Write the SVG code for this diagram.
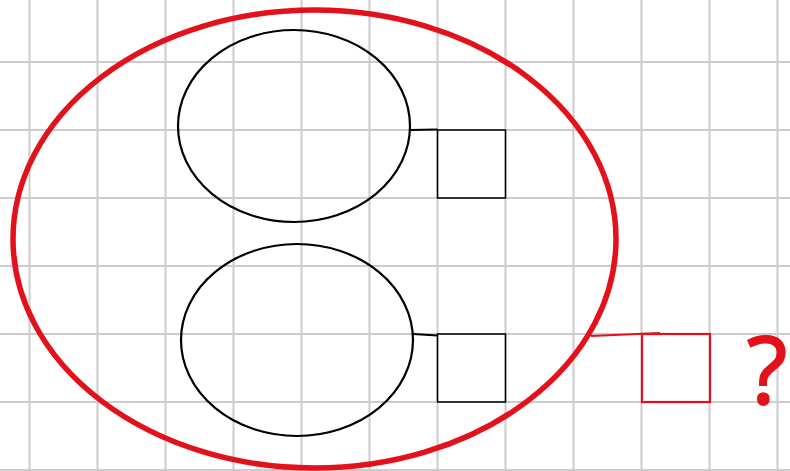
<svg xmlns="http://www.w3.org/2000/svg" width="790" height="471" viewBox="0 0 790 471">
<style>
.grid line{stroke:#cccccc;stroke-width:2}
.blk{fill:none;stroke:#000;stroke-width:2.2}
.box{fill:none;stroke:#000;stroke-width:1.5}
.red{fill:none;stroke:#e3111b}
</style>
<rect width="790" height="471" fill="#fff"/>
<g class="grid">
<line x1="29.5" y1="0" x2="29.5" y2="471"/>
<line x1="97.5" y1="0" x2="97.5" y2="471"/>
<line x1="165.5" y1="0" x2="165.5" y2="471"/>
<line x1="233.5" y1="0" x2="233.5" y2="471"/>
<line x1="301.5" y1="0" x2="301.5" y2="471"/>
<line x1="369.5" y1="0" x2="369.5" y2="471"/>
<line x1="437.5" y1="0" x2="437.5" y2="471"/>
<line x1="505.5" y1="0" x2="505.5" y2="471"/>
<line x1="573.5" y1="0" x2="573.5" y2="471"/>
<line x1="641.5" y1="0" x2="641.5" y2="471"/>
<line x1="709.5" y1="0" x2="709.5" y2="471"/>
<line x1="777.5" y1="0" x2="777.5" y2="471"/>
<line x1="0" y1="62" x2="790" y2="62"/>
<line x1="0" y1="130" x2="790" y2="130"/>
<line x1="0" y1="198" x2="790" y2="198"/>
<line x1="0" y1="266" x2="790" y2="266"/>
<line x1="0" y1="334" x2="790" y2="334"/>
<line x1="0" y1="402" x2="790" y2="402"/>
<line x1="0" y1="470" x2="790" y2="470"/>
</g>
<g id="outer">
<ellipse class="red" cx="314.5" cy="239" rx="301.5" ry="229" stroke-width="5.5"/>
</g>
<g id="ellipse-top">
<ellipse class="blk" cx="294" cy="126" rx="116" ry="96"/>
</g>
<g id="ellipse-bottom">
<ellipse class="blk" cx="297" cy="340" rx="116" ry="96"/>
</g>
<g id="box-top">
<rect class="box" x="437.5" y="130" width="68" height="68"/>
</g>
<g id="box-bottom">
<rect class="box" x="437.5" y="334" width="68" height="68"/>
</g>
<g id="box-red">
<rect class="red" x="642" y="334" width="68" height="68" stroke-width="2.2"/>
</g>
<g id="connectors">
<line x1="410" y1="130" x2="437.5" y2="129.5" stroke="#000" stroke-width="2.2"/>
<line x1="413" y1="334" x2="437.5" y2="335.5" stroke="#000" stroke-width="2.2"/>
<line x1="591" y1="336" x2="660" y2="333" stroke="#e3111b" stroke-width="2.2"/>
</g>
<g id="question">
<text x="767" y="404" text-anchor="middle" font-family="Open Sans, sans-serif" font-size="94" fill="#e3111b" stroke="#e3111b" stroke-width="1.8">?</text>
</g>
</svg>
